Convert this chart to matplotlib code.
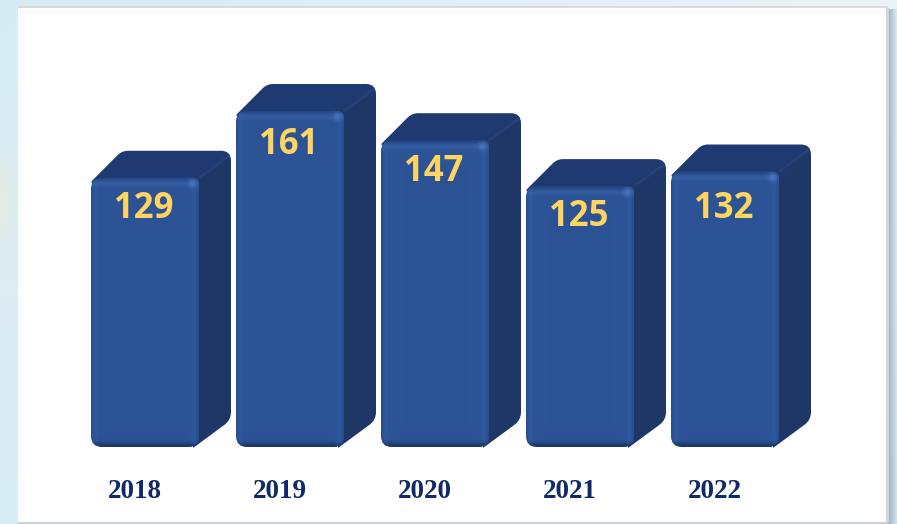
import numpy as np
import matplotlib
matplotlib.use('Agg')
import matplotlib.pyplot as plt
from matplotlib.patches import PathPatch
from matplotlib.path import Path

years = ['2018', '2019', '2020', '2021', '2022']
cases = [129, 161, 147, 125, 132]

# pixel layout of the picture
W, H = 897, 524
PX_X = 145.0      # px per category
PX_Y = 2.087      # px per unit
X0_PX = 145.0     # centre of first bar
BASE_PX = 447.0   # y pixel of value 0
BAR_W = 108
DEPTH_X, DEPTH_Y = 32, 27
LABEL_DROP = [31, 34, 32, 31, 37]
YEAR_PX = 491


def to_data(pts):
    """pixel coords -> data coords of the main axes"""
    pts = np.asarray(pts, dtype=float)
    return np.column_stack([(pts[:, 0] - X0_PX) / PX_X, (BASE_PX - pts[:, 1]) / PX_Y])


def rounded(pts, radii):
    """closed polygon with rounded corners, given in pixels"""
    pts = np.asarray(pts, dtype=float)
    n = len(pts)
    verts, codes = [], []
    for k in range(n):
        p, a, b = pts[k], pts[k - 1], pts[(k + 1) % n]
        r = radii[k]
        u = (a - p) / np.linalg.norm(a - p)
        v = (b - p) / np.linalg.norm(b - p)
        verts += [p + u * r, p, p + v * r]
        codes += [Path.LINETO, Path.CURVE3, Path.CURVE3]
    codes[0] = Path.MOVETO
    verts.append(verts[0])
    codes.append(Path.CLOSEPOLY)
    return Path(to_data(verts), codes)


def background():
    yy, xx = np.mgrid[0:H, 0:W]
    img = np.zeros((H, W, 3))
    t = yy / H
    img[..., 0] = 222 - 14 * np.abs(t - 0.55) + 20 * (1 - t) * (xx / W)
    img[..., 1] = 236 + 8 * (1 - t) * (xx / W)
    img[..., 2] = 244 + 4 * (1 - t) * (xx / W)
    # warm patch at the left border
    warm = np.exp(-((yy - 200) / 35.0) ** 2) * np.exp(-xx / 14.0)
    img[..., 2] -= 20 * warm
    img[..., 0] += 10 * warm
    # shadow to the right of the panel
    sh = np.clip(1 - (xx - 888) / 10.0, 0, 1) * (xx >= 888) * (yy > 8)
    for c, tone in enumerate((160, 182, 196)):
        img[..., c] = img[..., c] * (1 - sh) + tone * sh
    # panel
    panel = (xx >= 18) & (xx < 888) & (yy >= 8) & (yy < 522)
    img[panel] = 255
    img[(yy >= 6) & (yy < 8) & (xx >= 18) & (xx < 888)] = (218, 218, 218)
    img[(yy >= 9) & (yy < 14) & panel] = (251, 251, 251)
    img[(yy >= 522) & (xx >= 18) & (xx < 888)] = (205, 208, 210)
    img[(xx >= 886) & (xx < 889) & (yy >= 8) & (yy < 522)] = (212, 212, 212)
    return np.clip(img, 0, 255) / 255.0


def front_shade(w, h):
    yy, xx = np.mgrid[0:h, 0:w]
    top, bot = yy, h - 1 - yy
    left, right = xx, w - 1 - xx
    img = np.empty((h, w, 3))
    base = np.array([44, 83, 150.0])
    img[:] = base
    for c, (lo, hi) in enumerate(((26, 56), (50, 100), (100, 172))):
        side = np.minimum(left, right)
        img[..., c] += (hi - base[c]) * 0.3 * np.exp(-((side - 4) / 3.0) ** 2)
        img[..., c] += (hi - base[c]) * 0.5 * np.exp(-((top - 6) / 3.0) ** 2)
        img[..., c] += (lo - base[c]) * 0.4 * np.exp(-(top / 3.0) ** 2)
        img[..., c] += (lo - base[c]) * 0.9 * np.exp(-(bot / 4.0) ** 2)
        img[..., c] += (lo - base[c]) * 0.15 * np.exp(-(side / 2.5) ** 2)
    # small highlight at the upper right corner
    spot = np.exp(-(((xx - (w - 7)) / 4.0) ** 2 + ((yy - 6) / 4.0) ** 2))
    for c, v in enumerate((72, 116, 190)):
        img[..., c] = img[..., c] * (1 - spot) + v * spot
    return np.clip(img, 0, 255) / 255.0


fig = plt.figure(figsize=(W / 100, H / 100), dpi=100)
ax = fig.add_axes([0, 0, 1, 1])
xlim = (-X0_PX / PX_X, (W - X0_PX) / PX_X)
ylim = ((BASE_PX - H) / PX_Y, BASE_PX / PX_Y)
ax.imshow(background(), extent=(xlim[0], xlim[1], ylim[0], ylim[1]),
          aspect='auto', zorder=0, interpolation='bilinear')

for i, (year, val) in enumerate(zip(years, cases)):
    x_mid = X0_PX + i * PX_X
    xl, xr = x_mid - BAR_W / 2, x_mid + BAR_W / 2
    top = BASE_PX - val * PX_Y

    # top face
    top_face = rounded([(xl - 1, top + 5), (xl + DEPTH_X - 1, top - DEPTH_Y),
                        (xr + DEPTH_X, top - DEPTH_Y), (xr + DEPTH_X, top + 20), (xr, top + 20)],
                       [3, 6, 10, 2, 2])
    ax.add_patch(PathPatch(top_face, fc='#1f3a70', ec='none', zorder=2))
    # side face
    side_face = rounded([(xr - 6, top), (xr + DEPTH_X, top - DEPTH_Y + 4),
                         (xr + DEPTH_X, BASE_PX - DEPTH_Y), (xr - 6, BASE_PX + 1)],
                        [1, 10, 8, 1])
    ax.add_patch(PathPatch(side_face, fc='#1f3766', ec='none', zorder=3))
    # soft bevel between top and side
    ax.plot(*to_data([(xr, top), (xr + DEPTH_X - 3, top - DEPTH_Y + 6)]).T,
            color='#2a4a86', lw=2, alpha=0.5, zorder=3, solid_capstyle='round')
    # front face
    w, h = BAR_W, int(round(BASE_PX - top))
    clip = rounded([(xl, top), (xr, top), (xr, BASE_PX), (xl, BASE_PX)], [11, 6, 10, 11])
    (x0, y0), (x1, y1) = to_data([(xl, BASE_PX), (xr, top)])
    im = ax.imshow(front_shade(w, h), extent=(x0, x1, y0, y1), aspect='auto', zorder=4)
    im.set_clip_path(PathPatch(clip, transform=ax.transData))

    ax.text(i - 1.5 / PX_X, val - LABEL_DROP[i] / PX_Y, str(val), ha='center', va='center',
            fontsize=25, fontweight='bold', family='Open Sans', color='#FFD460', zorder=6)
    ax.text(i - 10.5 / PX_X, (BASE_PX - YEAR_PX) / PX_Y, year, ha='center', va='center',
            fontsize=19.5, fontweight='bold', family='Liberation Serif', color='#10296B', zorder=6)

ax.set_xlim(*xlim)
ax.set_ylim(*ylim)
ax.axis('off')
fig.savefig('out.png', dpi=100)
